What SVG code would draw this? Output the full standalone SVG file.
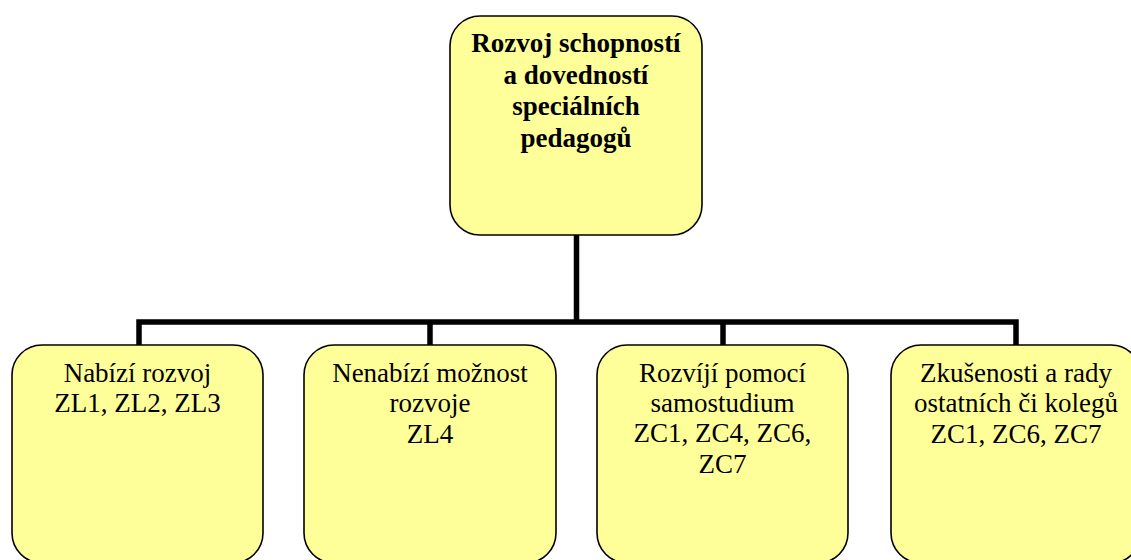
<svg xmlns="http://www.w3.org/2000/svg" width="1131" height="560" viewBox="0 0 1131 560">
  <style>
    .box { fill: #ffff99; stroke: #000; stroke-width: 1.6; }
    .conn { fill: none; stroke: #000; stroke-width: 5.5; }
  </style>
  <rect width="1131" height="560" fill="#fff"/>

  <!-- tree connectors -->
  <g id="connectors">
    <path class="conn" d="M576.5 235 V322"/>
    <path class="conn" d="M139 346 V322 H1016 V346"/>
    <path class="conn" d="M430 322 V346"/>
    <path class="conn" d="M723 322 V346"/>
  </g>

  <g id="root">
    <rect class="box" x="450" y="16" width="252" height="219" rx="30"/>
    <text font-family="Liberation Serif" font-size="27" font-weight="bold" text-anchor="middle" x="576" y="52">Rozvoj schopností</text>
    <text font-family="Liberation Serif" font-size="27" font-weight="bold" text-anchor="middle" x="576" y="84">a dovedností</text>
    <text font-family="Liberation Serif" font-size="27" font-weight="bold" text-anchor="middle" x="576" y="115">speciálních</text>
    <text font-family="Liberation Serif" font-size="27" font-weight="bold" text-anchor="middle" x="576" y="147">pedagogů</text>
  </g>

  <g id="node-nabizi">
    <rect class="box" x="12" y="345" width="251" height="218" rx="30"/>
    <text font-family="Liberation Serif" font-size="27" text-anchor="middle" x="137.5" y="382">Nabízí rozvoj</text>
    <text font-family="Liberation Serif" font-size="27" text-anchor="middle" x="137.5" y="412">ZL1, ZL2, ZL3</text>
  </g>

  <g id="node-nenabizi">
    <rect class="box" x="304" y="345" width="252" height="218" rx="30"/>
    <text font-family="Liberation Serif" font-size="27" text-anchor="middle" x="430" y="382">Nenabízí možnost</text>
    <text font-family="Liberation Serif" font-size="27" text-anchor="middle" x="430" y="412">rozvoje</text>
    <text font-family="Liberation Serif" font-size="27" text-anchor="middle" x="430" y="443">ZL4</text>
  </g>

  <g id="node-samostudium">
    <rect class="box" x="597" y="345" width="251" height="218" rx="30"/>
    <text font-family="Liberation Serif" font-size="27" text-anchor="middle" x="722.5" y="382">Rozvíjí pomocí</text>
    <text font-family="Liberation Serif" font-size="27" text-anchor="middle" x="722.5" y="412">samostudium</text>
    <text font-family="Liberation Serif" font-size="27" text-anchor="middle" x="722.5" y="442">ZC1, ZC4, ZC6,</text>
    <text font-family="Liberation Serif" font-size="27" text-anchor="middle" x="722.5" y="473">ZC7</text>
  </g>

  <g id="node-zkusenosti">
    <rect class="box" x="891" y="345" width="250" height="218" rx="30"/>
    <text font-family="Liberation Serif" font-size="27" text-anchor="middle" x="1016" y="382">Zkušenosti a rady</text>
    <text font-family="Liberation Serif" font-size="27" text-anchor="middle" x="1016" y="412">ostatních či kolegů</text>
    <text font-family="Liberation Serif" font-size="27" text-anchor="middle" x="1016" y="443">ZC1, ZC6, ZC7</text>
  </g>
</svg>
